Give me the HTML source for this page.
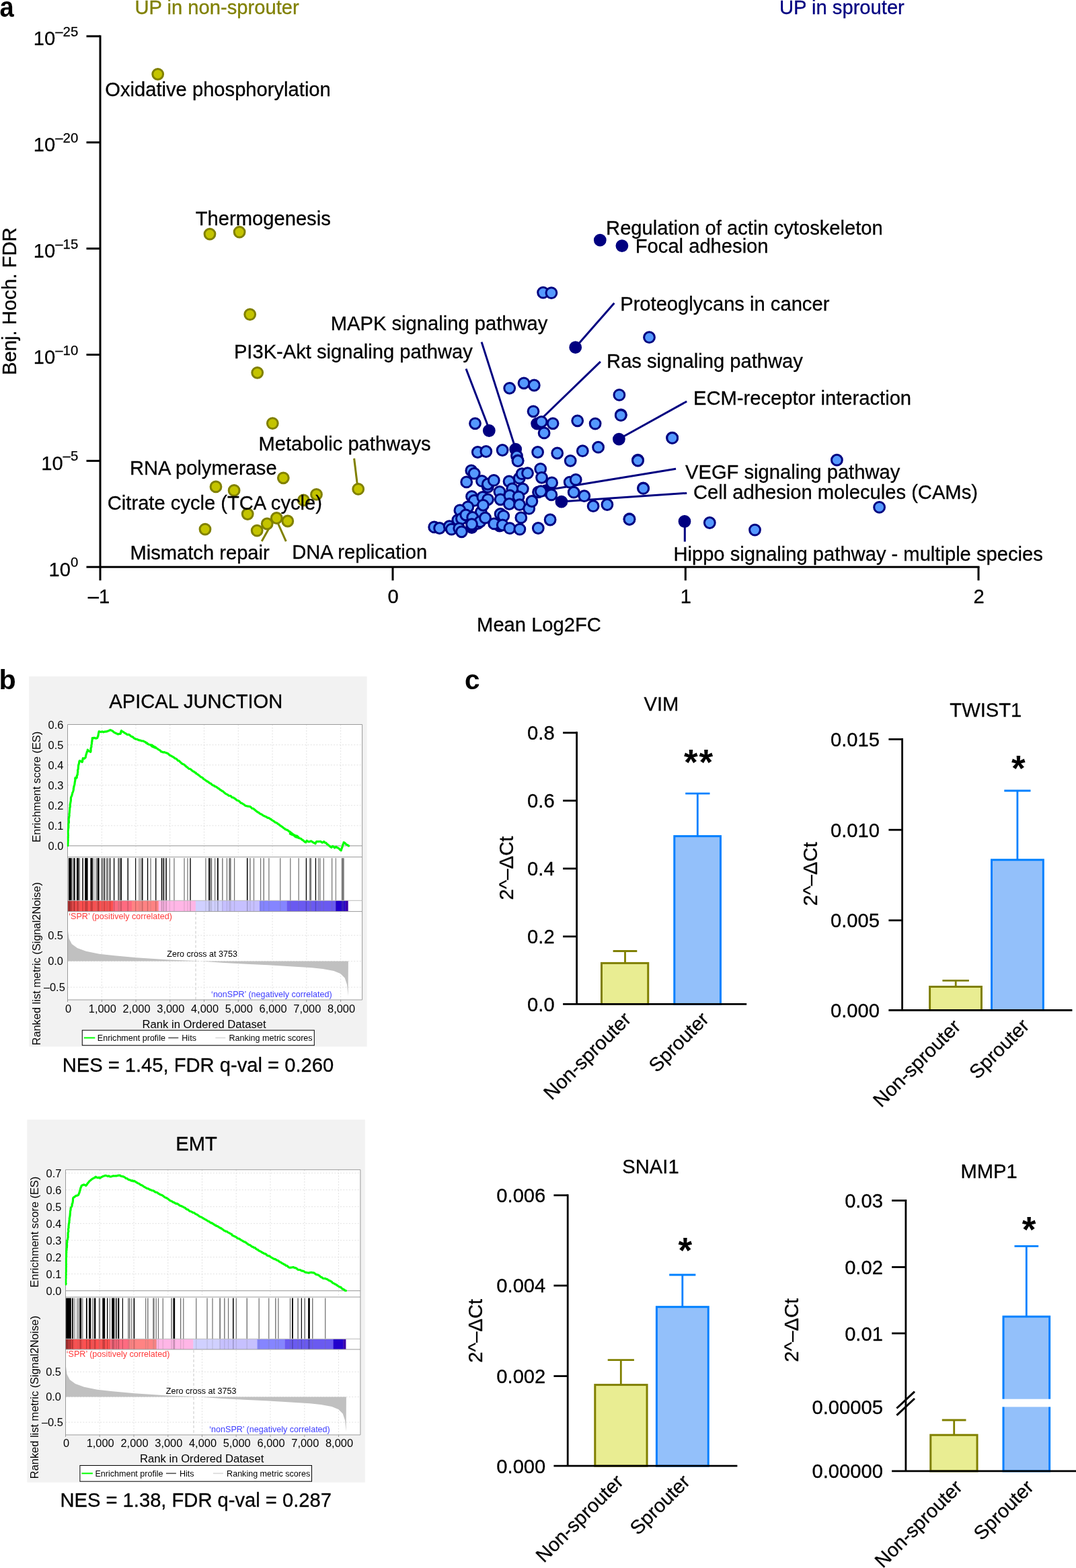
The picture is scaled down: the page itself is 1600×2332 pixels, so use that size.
<!DOCTYPE html>
<html lang="en">
<head>
<meta charset="utf-8">
<title>Figure</title>
<style>
html,body{margin:0;padding:0;background:#fff;}
body{width:1600px;height:2332px;overflow:hidden;}
svg{display:block;font-family:"Liberation Sans",Arial,Helvetica,sans-serif;}
.t{stroke:#000;stroke-width:0.3px;}
</style>
</head>
<body>
<svg width="1600" height="2332" viewBox="0 0 1600 2332">
<rect width="1600" height="2332" fill="#fff"/>
<g id="panel-a">
<text transform="translate(-0.6,24.6) scale(0.89,1)" font-size="42.8" font-weight="bold">a</text>
<text x="200.5" y="20.5" font-size="29.17" fill="#808000" stroke="#808000" stroke-width="0.3">UP in non-sprouter</text>
<text x="1159" y="20.5" font-size="29.17" fill="#000080" stroke="#000080" stroke-width="0.3">UP in sprouter</text>
<g stroke="#000" stroke-width="3" fill="none">
<path d="M149.0 52.4V863.3"/>
<path d="M128.5 843.3H1456.5"/>
<path d="M128.5 53.9H149.0"/>
<path d="M128.5 211.8H149.0"/>
<path d="M128.5 369.7H149.0"/>
<path d="M128.5 527.5H149.0"/>
<path d="M128.5 685.4H149.0"/>
<path d="M584.0 843.3V863.3"/>
<path d="M1019.3 843.3V863.3"/>
<path d="M1455.0 843.3V863.3"/>
</g>
<text x="116.3" y="67.1" font-size="29.17" text-anchor="end" stroke="#000" stroke-width="0.25">10<tspan dy="-13.2" font-size="20.4">–25</tspan></text>
<text x="116.3" y="225.0" font-size="29.17" text-anchor="end" stroke="#000" stroke-width="0.25">10<tspan dy="-13.2" font-size="20.4">–20</tspan></text>
<text x="116.3" y="382.9" font-size="29.17" text-anchor="end" stroke="#000" stroke-width="0.25">10<tspan dy="-13.2" font-size="20.4">–15</tspan></text>
<text x="116.3" y="540.7" font-size="29.17" text-anchor="end" stroke="#000" stroke-width="0.25">10<tspan dy="-13.2" font-size="20.4">–10</tspan></text>
<text x="116.3" y="698.6" font-size="29.17" text-anchor="end" stroke="#000" stroke-width="0.25">10<tspan dy="-13.2" font-size="20.4">–5</tspan></text>
<text x="116.3" y="856.5" font-size="29.17" text-anchor="end" stroke="#000" stroke-width="0.25">10<tspan dy="-13.2" font-size="20.4">0</tspan></text>
<text x="147.0" y="896.5" font-size="29.17" text-anchor="middle" stroke="#000" stroke-width="0.3">–1</text>
<text x="584.5" y="896.5" font-size="29.17" text-anchor="middle" stroke="#000" stroke-width="0.3">0</text>
<text x="1019.8" y="896.5" font-size="29.17" text-anchor="middle" stroke="#000" stroke-width="0.3">1</text>
<text x="1455.5" y="896.5" font-size="29.17" text-anchor="middle" stroke="#000" stroke-width="0.3">2</text>
<text x="801.5" y="939" font-size="29.17" text-anchor="middle" stroke="#000" stroke-width="0.3">Mean Log2FC</text>
<text transform="translate(24,448.2) rotate(-90)" font-size="29.3" text-anchor="middle" stroke="#000" stroke-width="0.3">Benj. Hoch. FDR</text>
<g stroke="#808000" stroke-width="3" fill="none">
<path d="M526.6 681.7L531.5 722.0"/>
<path d="M389.2 805.1L401.3 783.5"/>
<path d="M425.3 805.1L412.3 776.0"/>
</g>
<g stroke="#000080" stroke-width="3" fill="none">
<path d="M913.4 450.7L858.0 514.0"/>
<path d="M892.9 537.9L801.8 626.0"/>
<path d="M693.0 548.5L727.3 638.0"/>
<path d="M716.1 508.6L766.7 667.7"/>
<path d="M1021.2 597.0L922.0 652.0"/>
<path d="M1005.1 697.3L812.0 729.0"/>
<path d="M1021.2 733.4L835.0 746.0"/>
<path d="M1018.3 775.0L1018.3 805.6"/>
</g>
<g fill="#c4c400" stroke="#808000" stroke-width="3">
<circle cx="234.7" cy="110.3" r="7.9"/>
<circle cx="312.0" cy="348.1" r="7.9"/>
<circle cx="356.1" cy="345.1" r="7.9"/>
<circle cx="371.7" cy="467.6" r="7.9"/>
<circle cx="382.7" cy="554.3" r="7.9"/>
<circle cx="405.3" cy="629.6" r="7.9"/>
<circle cx="421.3" cy="710.8" r="7.9"/>
<circle cx="321.0" cy="723.9" r="7.9"/>
<circle cx="348.1" cy="729.4" r="7.9"/>
<circle cx="451.4" cy="743.9" r="7.9"/>
<circle cx="470.5" cy="735.4" r="7.9"/>
<circle cx="532.7" cy="727.4" r="7.9"/>
<circle cx="368.2" cy="764.5" r="7.9"/>
<circle cx="305.0" cy="787.1" r="7.9"/>
<circle cx="382.2" cy="789.1" r="7.9"/>
<circle cx="397.2" cy="779.0" r="7.9"/>
<circle cx="411.3" cy="770.5" r="7.9"/>
<circle cx="427.8" cy="775.0" r="7.9"/>
</g>
<g fill="#000080" stroke="#000080" stroke-width="3">
<circle cx="892.3" cy="357.1" r="7.9"/>
<circle cx="924.9" cy="365.6" r="7.9"/>
<circle cx="855.7" cy="516.7" r="7.9"/>
<circle cx="920.4" cy="653.1" r="7.9"/>
<circle cx="1018.0" cy="775.5" r="7.9"/>
<circle cx="727.3" cy="640.5" r="7.9"/>
<circle cx="766.7" cy="668.2" r="7.9"/>
<circle cx="798.6" cy="630.1" r="7.9"/>
<circle cx="811.8" cy="729.7" r="7.9"/>
<circle cx="834.9" cy="746.2" r="7.9"/>
<circle cx="701.5" cy="784.6" r="7.9"/>
<circle cx="742.9" cy="782.1" r="7.9"/>
</g>
<g fill="#5599ff" stroke="#000080" stroke-width="3">
<circle cx="965.5" cy="501.7" r="7.9"/>
<circle cx="920.9" cy="587.4" r="7.9"/>
<circle cx="923.4" cy="617.0" r="7.9"/>
<circle cx="999.6" cy="651.1" r="7.9"/>
<circle cx="948.5" cy="684.2" r="7.9"/>
<circle cx="1244.4" cy="684.2" r="7.9"/>
<circle cx="1307.6" cy="754.4" r="7.9"/>
<circle cx="956.5" cy="725.9" r="7.9"/>
<circle cx="935.9" cy="772.0" r="7.9"/>
<circle cx="1055.3" cy="777.5" r="7.9"/>
<circle cx="1122.5" cy="788.1" r="7.9"/>
<circle cx="807.6" cy="435.1" r="7.9"/>
<circle cx="819.9" cy="435.6" r="7.9"/>
<circle cx="757.7" cy="577.3" r="7.9"/>
<circle cx="779.0" cy="569.8" r="7.9"/>
<circle cx="794.3" cy="573.0" r="7.9"/>
<circle cx="793.0" cy="611.8" r="7.9"/>
<circle cx="706.5" cy="629.8" r="7.9"/>
<circle cx="805.1" cy="627.3" r="7.9"/>
<circle cx="822.1" cy="629.8" r="7.9"/>
<circle cx="809.1" cy="643.9" r="7.9"/>
<circle cx="858.7" cy="625.8" r="7.9"/>
<circle cx="885.1" cy="630.1" r="7.9"/>
<circle cx="923.2" cy="617.6" r="7.9"/>
<circle cx="999.7" cy="651.4" r="7.9"/>
<circle cx="710.3" cy="672.5" r="7.9"/>
<circle cx="722.8" cy="671.5" r="7.9"/>
<circle cx="747.1" cy="669.5" r="7.9"/>
<circle cx="768.5" cy="678.2" r="7.9"/>
<circle cx="770.0" cy="685.0" r="7.9"/>
<circle cx="799.6" cy="672.5" r="7.9"/>
<circle cx="828.7" cy="674.0" r="7.9"/>
<circle cx="848.2" cy="685.3" r="7.9"/>
<circle cx="866.3" cy="670.7" r="7.9"/>
<circle cx="889.6" cy="665.2" r="7.9"/>
<circle cx="948.5" cy="685.0" r="7.9"/>
<circle cx="847.2" cy="717.1" r="7.9"/>
<circle cx="856.2" cy="713.4" r="7.9"/>
<circle cx="853.2" cy="732.2" r="7.9"/>
<circle cx="868.8" cy="737.7" r="7.9"/>
<circle cx="956.6" cy="726.4" r="7.9"/>
<circle cx="882.1" cy="752.7" r="7.9"/>
<circle cx="902.9" cy="750.5" r="7.9"/>
<circle cx="936.0" cy="772.3" r="7.9"/>
<circle cx="820.6" cy="717.9" r="7.9"/>
<circle cx="819.9" cy="735.9" r="7.9"/>
<circle cx="689.2" cy="765.1" r="7.9"/>
<circle cx="695.7" cy="770.6" r="7.9"/>
<circle cx="706.2" cy="774.6" r="7.9"/>
<circle cx="715.3" cy="761.6" r="7.9"/>
<circle cx="710.2" cy="778.6" r="7.9"/>
<circle cx="770.1" cy="685.5" r="7.9"/>
<circle cx="700.8" cy="699.9" r="7.9"/>
<circle cx="705.2" cy="704.1" r="7.9"/>
<circle cx="693.7" cy="716.9" r="7.9"/>
<circle cx="716.5" cy="715.4" r="7.9"/>
<circle cx="725.3" cy="724.4" r="7.9"/>
<circle cx="725.3" cy="720.0" r="7.9"/>
<circle cx="734.3" cy="714.4" r="7.9"/>
<circle cx="757.0" cy="716.0" r="7.9"/>
<circle cx="772.3" cy="711.2" r="7.9"/>
<circle cx="776.1" cy="704.7" r="7.9"/>
<circle cx="784.5" cy="703.7" r="7.9"/>
<circle cx="803.7" cy="697.4" r="7.9"/>
<circle cx="805.5" cy="710.3" r="7.9"/>
<circle cx="742.9" cy="731.3" r="7.9"/>
<circle cx="761.7" cy="726.9" r="7.9"/>
<circle cx="777.3" cy="727.1" r="7.9"/>
<circle cx="800.5" cy="731.9" r="7.9"/>
<circle cx="804.3" cy="730.7" r="7.9"/>
<circle cx="701.5" cy="738.4" r="7.9"/>
<circle cx="705.2" cy="744.4" r="7.9"/>
<circle cx="717.8" cy="739.4" r="7.9"/>
<circle cx="725.5" cy="742.8" r="7.9"/>
<circle cx="744.1" cy="742.8" r="7.9"/>
<circle cx="757.9" cy="736.9" r="7.9"/>
<circle cx="771.1" cy="738.8" r="7.9"/>
<circle cx="757.3" cy="749.5" r="7.9"/>
<circle cx="772.6" cy="750.7" r="7.9"/>
<circle cx="786.7" cy="756.4" r="7.9"/>
<circle cx="790.9" cy="745.5" r="7.9"/>
<circle cx="718.4" cy="751.3" r="7.9"/>
<circle cx="695.8" cy="753.9" r="7.9"/>
<circle cx="683.9" cy="758.9" r="7.9"/>
<circle cx="744.1" cy="764.5" r="7.9"/>
<circle cx="748.7" cy="767.4" r="7.9"/>
<circle cx="774.8" cy="769.9" r="7.9"/>
<circle cx="818.1" cy="773.0" r="7.9"/>
<circle cx="680.8" cy="773.3" r="7.9"/>
<circle cx="686.4" cy="771.4" r="7.9"/>
<circle cx="692.7" cy="765.8" r="7.9"/>
<circle cx="702.7" cy="769.5" r="7.9"/>
<circle cx="714.0" cy="775.8" r="7.9"/>
<circle cx="721.5" cy="770.2" r="7.9"/>
<circle cx="701.5" cy="779.6" r="7.9"/>
<circle cx="734.7" cy="778.9" r="7.9"/>
<circle cx="747.2" cy="780.8" r="7.9"/>
<circle cx="757.9" cy="785.6" r="7.9"/>
<circle cx="772.9" cy="787.1" r="7.9"/>
<circle cx="800.3" cy="785.5" r="7.9"/>
<circle cx="645.7" cy="783.9" r="7.9"/>
<circle cx="653.6" cy="785.5" r="7.9"/>
<circle cx="668.2" cy="782.7" r="7.9"/>
<circle cx="671.4" cy="787.1" r="7.9"/>
<circle cx="682.7" cy="785.8" r="7.9"/>
<circle cx="686.4" cy="790.8" r="7.9"/>
</g>
<g font-size="29.17" stroke="#000" stroke-width="0.3">
<text x="156.3" y="143.2">Oxidative phosphorylation</text>
<text x="290.8" y="334.9">Thermogenesis</text>
<text x="491.8" y="491.4">MAPK signaling pathway</text>
<text x="347.9" y="533.1">PI3K-Akt signaling pathway</text>
<text x="384.5" y="669.5">Metabolic pathways</text>
<text x="192.9" y="706.1">RNA polymerase</text>
<text x="159.8" y="758.1">Citrate cycle (TCA cycle)</text>
<text x="193.4" y="832.0">Mismatch repair</text>
<text x="434.2" y="831.0">DNA replication</text>
<text x="901.1" y="349.4">Regulation of actin cytoskeleton</text>
<text x="944.8" y="376.0">Focal adhesion</text>
<text x="922.2" y="462.2">Proteoglycans in cancer</text>
<text x="902.1" y="546.6">Ras signaling pathway</text>
<text x="1031.0" y="601.8">ECM-receptor interaction</text>
<text x="1019.0" y="712.1">VEGF signaling pathway</text>
<text x="1031.0" y="741.7">Cell adhesion molecules (CAMs)</text>
<text x="1001.4" y="834.0">Hippo signaling pathway - multiple species</text>
</g>
</g>
<g id="panel-b">
<text x="-1.5" y="1024.5" font-size="41.3" font-weight="bold">b</text>
<rect x="43.2" y="1006" width="502.5" height="550.6" fill="#f2f2f2"/>
<text x="291.3" y="1053.3" class="t" font-size="29.17" text-anchor="middle">APICAL JUNCTION</text>
<rect x="100.5" y="1077.5" width="438.1" height="409.5" fill="#fff"/>
<g stroke="#dedede" stroke-width="0.9" stroke-dasharray="2 2.3" fill="none">
<path d="M151.3 1077.5V1272.6"/>
<path d="M151.3 1356.6V1487.0"/>
<path d="M202.0 1077.5V1272.6"/>
<path d="M202.0 1356.6V1487.0"/>
<path d="M252.8 1077.5V1272.6"/>
<path d="M252.8 1356.6V1487.0"/>
<path d="M303.5 1077.5V1272.6"/>
<path d="M303.5 1356.6V1487.0"/>
<path d="M354.3 1077.5V1272.6"/>
<path d="M354.3 1356.6V1487.0"/>
<path d="M405.1 1077.5V1272.6"/>
<path d="M405.1 1356.6V1487.0"/>
<path d="M455.8 1077.5V1272.6"/>
<path d="M455.8 1356.6V1487.0"/>
<path d="M506.6 1077.5V1272.6"/>
<path d="M506.6 1356.6V1487.0"/>
<path d="M100.5 1227.9H538.6"/>
<path d="M100.5 1197.8H538.6"/>
<path d="M100.5 1167.8H538.6"/>
<path d="M100.5 1137.8H538.6"/>
<path d="M100.5 1107.8H538.6"/>
<path d="M100.5 1391.1H538.6"/>
<path d="M100.5 1429.6H538.6"/>
<path d="M100.5 1468.2H538.6"/>
</g>
<path d="M291.0 1356.6V1487.0" stroke="#c0c0c0" stroke-width="0.9" stroke-dasharray="4 3" fill="none"/>
<path d="M100.5 1257.9H538.6" stroke="#a8a8a8" stroke-width="1.2" fill="none"/>
<polygon points="101.0,1429.4 101.0,1384.5 102.6,1395.9 106.8,1404.0 115.0,1409.9 128.0,1414.8 147.6,1418.7 170.4,1421.3 203.0,1424.2 251.9,1427.5 291.0,1429.1 333.4,1432.1 366.0,1433.7 398.6,1435.3 431.2,1437.3 463.8,1439.2 480.1,1440.9 496.4,1444.1 506.2,1448.0 512.7,1454.5 516.0,1464.3 517.6,1481.3 517.9,1429.4" fill="#c0c0c0"/>
<rect x="100.5" y="1339.3" width="3.8" height="16.3" fill="#c03a3a"/>
<rect x="104.0" y="1339.3" width="8.3" height="16.3" fill="#e84545"/>
<rect x="112.0" y="1339.3" width="56.3" height="16.3" fill="#ff5050"/>
<rect x="168.0" y="1339.3" width="28.3" height="16.3" fill="#ff6b80"/>
<rect x="196.0" y="1339.3" width="40.0" height="16.3" fill="#ff8383"/>
<rect x="235.7" y="1339.3" width="55.5" height="16.3" fill="#ffb6e6"/>
<rect x="290.9" y="1339.3" width="39.4" height="16.3" fill="#d0d0ff"/>
<rect x="330.0" y="1339.3" width="56.2" height="16.3" fill="#c6c0ff"/>
<rect x="385.9" y="1339.3" width="40.9" height="16.3" fill="#8585ff"/>
<rect x="426.5" y="1339.3" width="72.9" height="16.3" fill="#6a5af0"/>
<rect x="499.1" y="1339.3" width="14.7" height="16.3" fill="#2200cc"/>
<rect x="513.5" y="1339.3" width="4.2" height="16.3" fill="#3a00aa"/>
<g>
<rect x="101.89" y="1276.1" width="4.82" height="63.2" fill="#000"/>
<rect x="107.76" y="1276.1" width="1.20" height="63.2" fill="#6e6e6e"/>
<rect x="109.56" y="1276.1" width="2.11" height="63.2" fill="#000"/>
<rect x="113.92" y="1276.1" width="3.31" height="63.2" fill="#000"/>
<rect x="117.54" y="1276.1" width="1.50" height="63.2" fill="#6e6e6e"/>
<rect x="122.35" y="1276.1" width="1.50" height="63.2" fill="#000"/>
<rect x="126.11" y="1276.1" width="4.51" height="63.2" fill="#000"/>
<rect x="134.39" y="1276.1" width="3.61" height="63.2" fill="#000"/>
<rect x="139.11" y="1276.1" width="1.10" height="63.2" fill="#6e6e6e"/>
<rect x="142.36" y="1276.1" width="2.11" height="63.2" fill="#7a7a7a"/>
<rect x="144.92" y="1276.1" width="2.71" height="63.2" fill="#000"/>
<rect x="150.19" y="1276.1" width="1.50" height="63.2" fill="#6e6e6e"/>
<rect x="152.14" y="1276.1" width="1.50" height="63.2" fill="#6e6e6e"/>
<rect x="154.65" y="1276.1" width="1.30" height="63.2" fill="#000"/>
<rect x="157.46" y="1276.1" width="1.10" height="63.2" fill="#6e6e6e"/>
<rect x="158.97" y="1276.1" width="1.10" height="63.2" fill="#6e6e6e"/>
<rect x="160.32" y="1276.1" width="1.10" height="63.2" fill="#6e6e6e"/>
<rect x="162.93" y="1276.1" width="1.30" height="63.2" fill="#000"/>
<rect x="168.95" y="1276.1" width="1.30" height="63.2" fill="#000"/>
<rect x="175.17" y="1276.1" width="1.81" height="63.2" fill="#6e6e6e"/>
<rect x="177.12" y="1276.1" width="1.20" height="63.2" fill="#6e6e6e"/>
<rect x="179.08" y="1276.1" width="1.81" height="63.2" fill="#000"/>
<rect x="189.54" y="1276.1" width="1.35" height="63.2" fill="#000"/>
<rect x="201.05" y="1276.1" width="1.20" height="63.2" fill="#000"/>
<rect x="206.46" y="1276.1" width="1.20" height="63.2" fill="#6e6e6e"/>
<rect x="209.02" y="1276.1" width="1.20" height="63.2" fill="#6e6e6e"/>
<rect x="210.98" y="1276.1" width="1.50" height="63.2" fill="#000"/>
<rect x="218.88" y="1276.1" width="1.35" height="63.2" fill="#000"/>
<rect x="223.47" y="1276.1" width="1.20" height="63.2" fill="#6e6e6e"/>
<rect x="231.07" y="1276.1" width="1.35" height="63.2" fill="#000"/>
<rect x="239.79" y="1276.1" width="1.35" height="63.2" fill="#000"/>
<rect x="241.52" y="1276.1" width="1.20" height="63.2" fill="#6e6e6e"/>
<rect x="243.03" y="1276.1" width="1.20" height="63.2" fill="#000"/>
<rect x="246.34" y="1276.1" width="1.50" height="63.2" fill="#000"/>
<rect x="251.76" y="1276.1" width="1.20" height="63.2" fill="#6e6e6e"/>
<rect x="258.38" y="1276.1" width="1.20" height="63.2" fill="#6e6e6e"/>
<rect x="273.42" y="1276.1" width="1.20" height="63.2" fill="#6e6e6e"/>
<rect x="278.39" y="1276.1" width="1.20" height="63.2" fill="#6e6e6e"/>
<rect x="282.38" y="1276.1" width="1.35" height="63.2" fill="#000"/>
<rect x="305.32" y="1276.1" width="1.20" height="63.2" fill="#6e6e6e"/>
<rect x="310.14" y="1276.1" width="1.81" height="63.2" fill="#000"/>
<rect x="312.25" y="1276.1" width="3.01" height="63.2" fill="#7a7a7a"/>
<rect x="319.02" y="1276.1" width="1.20" height="63.2" fill="#6e6e6e"/>
<rect x="323.15" y="1276.1" width="1.35" height="63.2" fill="#000"/>
<rect x="323.01" y="1276.1" width="1.50" height="63.2" fill="#000"/>
<rect x="330.16" y="1276.1" width="1.35" height="63.2" fill="#6e6e6e"/>
<rect x="336.85" y="1276.1" width="1.20" height="63.2" fill="#6e6e6e"/>
<rect x="340.31" y="1276.1" width="3.31" height="63.2" fill="#7a7a7a"/>
<rect x="347.99" y="1276.1" width="1.20" height="63.2" fill="#6e6e6e"/>
<rect x="366.95" y="1276.1" width="1.50" height="63.2" fill="#000"/>
<rect x="371.24" y="1276.1" width="1.35" height="63.2" fill="#6e6e6e"/>
<rect x="376.88" y="1276.1" width="1.20" height="63.2" fill="#6e6e6e"/>
<rect x="386.96" y="1276.1" width="1.20" height="63.2" fill="#6e6e6e"/>
<rect x="391.55" y="1276.1" width="1.35" height="63.2" fill="#6e6e6e"/>
<rect x="399.30" y="1276.1" width="1.20" height="63.2" fill="#6e6e6e"/>
<rect x="416.15" y="1276.1" width="1.20" height="63.2" fill="#6e6e6e"/>
<rect x="431.20" y="1276.1" width="1.20" height="63.2" fill="#6e6e6e"/>
<rect x="443.54" y="1276.1" width="1.20" height="63.2" fill="#6e6e6e"/>
<rect x="454.75" y="1276.1" width="1.35" height="63.2" fill="#000"/>
<rect x="460.09" y="1276.1" width="3.01" height="63.2" fill="#7a7a7a"/>
<rect x="468.74" y="1276.1" width="1.35" height="63.2" fill="#000"/>
<rect x="472.95" y="1276.1" width="1.05" height="63.2" fill="#6e6e6e"/>
<rect x="475.06" y="1276.1" width="1.35" height="63.2" fill="#6e6e6e"/>
<rect x="480.70" y="1276.1" width="1.20" height="63.2" fill="#6e6e6e"/>
<rect x="493.04" y="1276.1" width="1.20" height="63.2" fill="#6e6e6e"/>
<rect x="498.83" y="1276.1" width="1.05" height="63.2" fill="#6e6e6e"/>
<rect x="507.79" y="1276.1" width="3.91" height="63.2" fill="#7a7a7a"/>
</g>
<g opacity="0.22">
<rect x="101.89" y="1339.3" width="4.82" height="16.3" fill="#000"/>
<rect x="107.76" y="1339.3" width="1.20" height="16.3" fill="#6e6e6e"/>
<rect x="109.56" y="1339.3" width="2.11" height="16.3" fill="#000"/>
<rect x="113.92" y="1339.3" width="3.31" height="16.3" fill="#000"/>
<rect x="117.54" y="1339.3" width="1.50" height="16.3" fill="#6e6e6e"/>
<rect x="122.35" y="1339.3" width="1.50" height="16.3" fill="#000"/>
<rect x="126.11" y="1339.3" width="4.51" height="16.3" fill="#000"/>
<rect x="134.39" y="1339.3" width="3.61" height="16.3" fill="#000"/>
<rect x="139.11" y="1339.3" width="1.10" height="16.3" fill="#6e6e6e"/>
<rect x="142.36" y="1339.3" width="2.11" height="16.3" fill="#7a7a7a"/>
<rect x="144.92" y="1339.3" width="2.71" height="16.3" fill="#000"/>
<rect x="150.19" y="1339.3" width="1.50" height="16.3" fill="#6e6e6e"/>
<rect x="152.14" y="1339.3" width="1.50" height="16.3" fill="#6e6e6e"/>
<rect x="154.65" y="1339.3" width="1.30" height="16.3" fill="#000"/>
<rect x="157.46" y="1339.3" width="1.10" height="16.3" fill="#6e6e6e"/>
<rect x="158.97" y="1339.3" width="1.10" height="16.3" fill="#6e6e6e"/>
<rect x="160.32" y="1339.3" width="1.10" height="16.3" fill="#6e6e6e"/>
<rect x="162.93" y="1339.3" width="1.30" height="16.3" fill="#000"/>
<rect x="168.95" y="1339.3" width="1.30" height="16.3" fill="#000"/>
<rect x="175.17" y="1339.3" width="1.81" height="16.3" fill="#6e6e6e"/>
<rect x="177.12" y="1339.3" width="1.20" height="16.3" fill="#6e6e6e"/>
<rect x="179.08" y="1339.3" width="1.81" height="16.3" fill="#000"/>
<rect x="189.54" y="1339.3" width="1.35" height="16.3" fill="#000"/>
<rect x="201.05" y="1339.3" width="1.20" height="16.3" fill="#000"/>
<rect x="206.46" y="1339.3" width="1.20" height="16.3" fill="#6e6e6e"/>
<rect x="209.02" y="1339.3" width="1.20" height="16.3" fill="#6e6e6e"/>
<rect x="210.98" y="1339.3" width="1.50" height="16.3" fill="#000"/>
<rect x="218.88" y="1339.3" width="1.35" height="16.3" fill="#000"/>
<rect x="223.47" y="1339.3" width="1.20" height="16.3" fill="#6e6e6e"/>
<rect x="231.07" y="1339.3" width="1.35" height="16.3" fill="#000"/>
<rect x="239.79" y="1339.3" width="1.35" height="16.3" fill="#000"/>
<rect x="241.52" y="1339.3" width="1.20" height="16.3" fill="#6e6e6e"/>
<rect x="243.03" y="1339.3" width="1.20" height="16.3" fill="#000"/>
<rect x="246.34" y="1339.3" width="1.50" height="16.3" fill="#000"/>
<rect x="251.76" y="1339.3" width="1.20" height="16.3" fill="#6e6e6e"/>
<rect x="258.38" y="1339.3" width="1.20" height="16.3" fill="#6e6e6e"/>
<rect x="273.42" y="1339.3" width="1.20" height="16.3" fill="#6e6e6e"/>
<rect x="278.39" y="1339.3" width="1.20" height="16.3" fill="#6e6e6e"/>
<rect x="282.38" y="1339.3" width="1.35" height="16.3" fill="#000"/>
<rect x="305.32" y="1339.3" width="1.20" height="16.3" fill="#6e6e6e"/>
<rect x="310.14" y="1339.3" width="1.81" height="16.3" fill="#000"/>
<rect x="312.25" y="1339.3" width="3.01" height="16.3" fill="#7a7a7a"/>
<rect x="319.02" y="1339.3" width="1.20" height="16.3" fill="#6e6e6e"/>
<rect x="323.15" y="1339.3" width="1.35" height="16.3" fill="#000"/>
<rect x="323.01" y="1339.3" width="1.50" height="16.3" fill="#000"/>
<rect x="330.16" y="1339.3" width="1.35" height="16.3" fill="#6e6e6e"/>
<rect x="336.85" y="1339.3" width="1.20" height="16.3" fill="#6e6e6e"/>
<rect x="340.31" y="1339.3" width="3.31" height="16.3" fill="#7a7a7a"/>
<rect x="347.99" y="1339.3" width="1.20" height="16.3" fill="#6e6e6e"/>
<rect x="366.95" y="1339.3" width="1.50" height="16.3" fill="#000"/>
<rect x="371.24" y="1339.3" width="1.35" height="16.3" fill="#6e6e6e"/>
<rect x="376.88" y="1339.3" width="1.20" height="16.3" fill="#6e6e6e"/>
<rect x="386.96" y="1339.3" width="1.20" height="16.3" fill="#6e6e6e"/>
<rect x="391.55" y="1339.3" width="1.35" height="16.3" fill="#6e6e6e"/>
<rect x="399.30" y="1339.3" width="1.20" height="16.3" fill="#6e6e6e"/>
<rect x="416.15" y="1339.3" width="1.20" height="16.3" fill="#6e6e6e"/>
<rect x="431.20" y="1339.3" width="1.20" height="16.3" fill="#6e6e6e"/>
<rect x="443.54" y="1339.3" width="1.20" height="16.3" fill="#6e6e6e"/>
<rect x="454.75" y="1339.3" width="1.35" height="16.3" fill="#000"/>
<rect x="460.09" y="1339.3" width="3.01" height="16.3" fill="#7a7a7a"/>
<rect x="468.74" y="1339.3" width="1.35" height="16.3" fill="#000"/>
<rect x="472.95" y="1339.3" width="1.05" height="16.3" fill="#6e6e6e"/>
<rect x="475.06" y="1339.3" width="1.35" height="16.3" fill="#6e6e6e"/>
<rect x="480.70" y="1339.3" width="1.20" height="16.3" fill="#6e6e6e"/>
<rect x="493.04" y="1339.3" width="1.20" height="16.3" fill="#6e6e6e"/>
<rect x="498.83" y="1339.3" width="1.05" height="16.3" fill="#6e6e6e"/>
<rect x="507.79" y="1339.3" width="3.91" height="16.3" fill="#7a7a7a"/>
</g>
<g stroke="#9a9a9a" stroke-width="1" fill="none">
<path d="M100.5 1077.5H538.6V1487.0H100.5Z"/>
<path d="M100.5 1274.6H538.6"/>
<path d="M100.5 1339.3H538.6" stroke="#bbb"/>
<path d="M100.5 1355.6H538.6"/>
<path d="M100.5 1487.0v3"/>
<path d="M151.3 1487.0v3"/>
<path d="M202.0 1487.0v3"/>
<path d="M252.8 1487.0v3"/>
<path d="M303.5 1487.0v3"/>
<path d="M354.3 1487.0v3"/>
<path d="M405.1 1487.0v3"/>
<path d="M455.8 1487.0v3"/>
<path d="M506.6 1487.0v3"/>
</g>
<clipPath id="clip1"><rect x="99.7" y="1074.5" width="438.9" height="200.1"/></clipPath>
<polyline clip-path="url(#clip1)" points="100.8,1257.7 100.9,1256.0 100.9,1254.8 101.0,1252.7 101.0,1250.7 101.2,1249.6 100.9,1247.4 101.3,1245.7 100.8,1244.7 101.4,1243.4 101.2,1241.4 101.2,1239.6 101.0,1237.5 101.1,1236.3 101.3,1234.2 101.5,1232.4 101.8,1231.2 101.8,1229.6 101.9,1227.9 101.7,1226.2 102.0,1224.5 102.4,1223.4 102.4,1221.5 102.2,1219.2 102.2,1217.5 102.6,1216.3 102.7,1214.7 103.1,1213.1 102.9,1210.3 103.2,1209.6 103.3,1208.0 103.5,1205.7 103.7,1203.7 103.7,1202.9 103.9,1200.5 104.4,1199.9 104.2,1197.3 104.3,1195.7 104.6,1194.9 104.9,1193.0 105.3,1191.1 105.4,1189.4 105.4,1187.8 105.5,1186.3 105.9,1185.0 106.7,1183.7 107.3,1181.2 107.7,1179.3 108.4,1177.9 108.8,1176.6 109.4,1174.2 109.3,1172.7 109.7,1171.7 109.9,1169.6 110.6,1167.7 110.9,1166.6 111.1,1164.6 111.3,1163.1 111.5,1162.1 111.9,1160.0 111.7,1157.9 112.1,1156.6 113.8,1157.2 114.3,1155.9 114.3,1153.5 115.2,1152.3 115.3,1150.3 115.7,1148.3 115.7,1147.5 115.6,1145.4 116.3,1143.3 116.3,1141.9 116.5,1140.3 116.5,1139.0 116.9,1137.2 117.6,1134.9 117.8,1132.9 118.4,1131.5 120.3,1132.1 122.2,1133.4 122.8,1131.5 122.9,1129.7 123.4,1127.7 125.3,1128.3 127.2,1126.5 127.4,1125.3 127.9,1122.7 128.3,1121.6 128.9,1119.7 129.2,1118.5 130.1,1116.6 130.3,1115.2 132.2,1117.1 134.7,1118.3 135.0,1117.2 135.1,1115.3 135.0,1113.1 135.7,1111.4 135.9,1110.6 135.9,1108.2 136.2,1107.1 136.5,1105.4 136.5,1103.5 136.9,1102.7 136.9,1101.1 137.3,1099.5 137.2,1097.6 140.3,1097.4 142.9,1098.2 144.7,1097.6 145.3,1095.8 145.8,1094.8 146.2,1092.6 146.4,1091.5 146.8,1089.6 147.2,1087.8 148.9,1088.3 150.4,1088.6 152.1,1088.0 153.9,1088.9 155.4,1088.2 157.0,1088.2 158.8,1087.9 160.4,1087.3 162.4,1086.5 163.9,1085.7 165.8,1086.3 167.5,1087.3 169.2,1088.8 170.6,1089.6 172.3,1090.6 174.1,1091.3 175.5,1092.0 177.0,1091.4 179.2,1091.3 179.7,1089.5 179.9,1087.8 180.5,1086.6 182.0,1088.1 183.6,1088.7 184.9,1089.8 186.4,1090.6 187.7,1091.4 189.2,1092.6 191.8,1092.4 193.5,1093.7 194.6,1094.9 196.0,1095.6 197.6,1096.1 199.3,1097.9 200.5,1098.6 202.5,1099.4 203.7,1099.5 205.5,1100.4 207.1,1100.9 208.8,1101.1 210.6,1102.0 213.1,1102.0 214.5,1103.0 216.1,1103.5 217.3,1105.0 218.4,1104.9 219.9,1106.6 221.6,1107.3 223.1,1107.6 224.1,1108.2 225.5,1109.5 227.0,1110.7 228.3,1110.8 230.0,1112.0 228.5,1110.8 227.2,1109.4 225.7,1107.9 227.4,1109.2 228.3,1110.0 229.6,1110.7 231.2,1111.1 232.4,1112.8 233.8,1113.2 235.3,1114.6 236.8,1115.4 238.2,1116.1 239.2,1117.6 240.8,1118.1 242.8,1119.0 244.5,1118.6 246.7,1119.6 248.3,1120.0 249.7,1120.7 251.2,1122.2 252.4,1123.1 253.6,1123.7 255.3,1124.6 256.6,1125.4 258.1,1125.9 259.5,1127.6 260.8,1128.0 262.2,1128.6 263.4,1129.7 264.6,1131.2 266.1,1131.3 267.6,1132.9 268.5,1133.8 269.9,1135.2 271.4,1136.2 273.1,1136.7 274.1,1137.5 275.8,1139.0 277.2,1140.4 278.4,1141.0 279.8,1142.4 280.9,1143.4 282.5,1143.5 284.0,1144.5 285.3,1145.8 286.6,1146.9 287.9,1147.3 289.6,1148.8 290.9,1149.0 292.1,1150.8 293.5,1151.2 294.6,1152.3 296.2,1153.3 297.3,1154.4 298.9,1155.8 300.5,1156.2 301.7,1157.4 302.8,1158.6 304.3,1159.4 306.0,1160.9 307.1,1161.2 308.5,1162.5 309.8,1162.9 311.5,1164.5 312.5,1165.0 314.0,1165.5 315.1,1167.2 316.4,1167.9 317.9,1168.1 319.3,1169.5 320.9,1170.0 322.3,1170.6 323.6,1171.9 324.9,1172.4 326.1,1173.4 327.6,1174.7 329.0,1175.4 330.2,1176.5 331.8,1177.1 333.1,1178.5 334.6,1179.6 335.7,1180.6 337.4,1181.4 338.6,1182.0 340.1,1183.3 342.1,1183.5 343.7,1184.3 344.8,1185.9 346.8,1186.0 348.0,1186.9 349.9,1188.1 351.2,1189.3 352.4,1190.2 354.1,1190.7 355.2,1191.2 357.0,1192.9 357.9,1194.1 359.6,1194.5 360.9,1195.4 361.9,1196.0 363.3,1196.9 364.9,1198.2 366.8,1198.7 368.5,1199.2 370.4,1199.3 372.5,1200.1 374.1,1201.4 375.0,1202.5 376.8,1202.5 378.1,1203.9 379.3,1204.7 380.6,1205.9 381.7,1206.9 383.6,1208.0 384.7,1208.4 386.1,1209.9 387.5,1210.6 388.8,1211.0 390.2,1212.1 392.2,1213.3 393.7,1213.9 395.0,1214.5 396.5,1215.2 398.2,1216.4 399.8,1216.4 401.2,1217.7 402.6,1218.1 403.9,1219.4 405.5,1220.4 406.8,1221.1 408.0,1222.1 409.1,1223.0 410.7,1223.5 412.0,1224.1 413.6,1225.7 415.1,1226.2 416.1,1227.6 417.6,1228.3 419.0,1229.4 420.3,1230.2 421.8,1231.6 423.2,1232.2 424.2,1233.5 426.0,1234.0 427.1,1234.5 428.4,1235.2 429.7,1236.5 431.5,1237.3 432.7,1238.5 434.1,1239.4 435.5,1240.7 437.0,1241.5 438.0,1242.2 439.9,1242.8 441.4,1243.0 442.5,1244.0 443.9,1245.2 442.4,1244.2 440.5,1244.1 439.2,1243.8 437.7,1242.6 435.9,1241.8 434.5,1241.5 433.1,1240.4 431.3,1240.0 432.6,1240.5 434.1,1241.2 436.0,1241.9 437.6,1242.9 438.6,1244.0 440.6,1245.1 442.1,1244.8 443.4,1246.0 445.6,1246.7 447.9,1247.5 449.1,1249.1 450.9,1249.7 451.9,1250.9 453.5,1252.3 454.7,1252.8 456.2,1250.2 457.4,1251.2 459.2,1252.0 460.7,1251.6 462.2,1250.8 463.6,1251.5 465.4,1252.8 467.4,1253.7 469.0,1254.7 469.6,1253.2 470.5,1251.7 472.4,1251.7 474.5,1251.7 476.5,1251.3 478.3,1252.8 479.5,1253.2 481.8,1251.7 483.0,1253.1 484.8,1253.5 486.1,1255.3 487.3,1255.9 488.8,1257.3 490.3,1258.3 491.4,1259.5 493.0,1260.3 494.5,1258.4 496.3,1259.4 497.6,1261.1 499.8,1259.3 501.5,1260.8 502.6,1261.0 504.3,1262.3 505.6,1263.8 507.3,1264.8 507.6,1263.2 508.5,1260.9 509.0,1259.7 509.5,1257.8 509.9,1255.9 510.8,1254.8 511.1,1252.8 512.4,1253.4 514.2,1255.2 515.4,1256.2 517.0,1256.9 518.6,1258.1" fill="none" stroke="#00ff00" stroke-width="3.2" stroke-linejoin="round" stroke-linecap="round"/>
<g font-size="16.4" text-anchor="end">
<text x="94.4" y="1263.7">0.0</text>
<text x="94.4" y="1233.7">0.1</text>
<text x="94.4" y="1203.6">0.2</text>
<text x="94.4" y="1173.6">0.3</text>
<text x="94.4" y="1143.6">0.4</text>
<text x="94.4" y="1113.5">0.5</text>
<text x="94.4" y="1083.5">0.6</text>
<text x="94.0" y="1396.9">0.5</text>
<text x="94.0" y="1435.4">0.0</text>
<text x="96.8" y="1474.0">–0.5</text>
</g>
<g font-size="16.4" text-anchor="middle">
<text x="101.5" y="1505.8">0</text>
<text x="152.3" y="1505.8">1,000</text>
<text x="203.0" y="1505.8">2,000</text>
<text x="253.8" y="1505.8">3,000</text>
<text x="304.5" y="1505.8">4,000</text>
<text x="355.3" y="1505.8">5,000</text>
<text x="406.1" y="1505.8">6,000</text>
<text x="456.8" y="1505.8">7,000</text>
<text x="507.6" y="1505.8">8,000</text>
<text x="303.6" y="1529.2" font-size="16.67">Rank in Ordered Dataset</text>
</g>
<text transform="translate(60.2,1170.2) rotate(-90)" font-size="16.4" text-anchor="middle">Enrichment score (ES)</text>
<text transform="translate(60.2,1433.3) rotate(-90)" font-size="16.4" text-anchor="middle">Ranked list metric (Signal2Noise)</text>
<text x="102.3" y="1366.8" font-size="12.55" fill="#ff3b3b">‘SPR’ (positively correlated)</text>
<text x="314.1" y="1482.5" font-size="12.55" fill="#4040ff">‘nonSPR’ (negatively correlated)</text>
<text x="248.3" y="1423.3" font-size="12.55">Zero cross at 3753</text>
<rect x="122.3" y="1532.2" width="345.0" height="22.5" fill="#fff" stroke="#000" stroke-width="1"/>
<path d="M124.8 1543.5h16.5" stroke="#00ff00" stroke-width="2" fill="none"/>
<path d="M250.3 1543.5h15" stroke="#555" stroke-width="1.6" fill="none"/>
<path d="M320.3 1543.5h15" stroke="#d8d8d8" stroke-width="1.6" fill="none"/>
<g font-size="12.55">
<text x="144.8" y="1548.0">Enrichment profile</text>
<text x="270.3" y="1548.0">Hits</text>
<text x="340.5" y="1548.0">Ranking metric scores</text>
</g>
<text x="294.4" y="1594.2" class="t" font-size="29.17" text-anchor="middle">NES = 1.45, FDR q-val = 0.260</text>
<rect x="40.3" y="1665.2" width="502.5" height="539.5" fill="#f2f2f2"/>
<text x="292" y="1711.2" class="t" font-size="29.17" text-anchor="middle">EMT</text>
<rect x="97.5" y="1739.7" width="438.4" height="394.3" fill="#fff"/>
<g stroke="#dedede" stroke-width="0.9" stroke-dasharray="2 2.3" fill="none">
<path d="M148.2 1739.7V1927.0"/>
<path d="M148.2 2007.9V2134.0"/>
<path d="M199.0 1739.7V1927.0"/>
<path d="M199.0 2007.9V2134.0"/>
<path d="M249.8 1739.7V1927.0"/>
<path d="M249.8 2007.9V2134.0"/>
<path d="M300.5 1739.7V1927.0"/>
<path d="M300.5 2007.9V2134.0"/>
<path d="M351.2 1739.7V1927.0"/>
<path d="M351.2 2007.9V2134.0"/>
<path d="M402.0 1739.7V1927.0"/>
<path d="M402.0 2007.9V2134.0"/>
<path d="M452.8 1739.7V1927.0"/>
<path d="M452.8 2007.9V2134.0"/>
<path d="M503.5 1739.7V1927.0"/>
<path d="M503.5 2007.9V2134.0"/>
<path d="M97.5 1894.7H535.9"/>
<path d="M97.5 1869.7H535.9"/>
<path d="M97.5 1844.7H535.9"/>
<path d="M97.5 1819.7H535.9"/>
<path d="M97.5 1794.7H535.9"/>
<path d="M97.5 1769.7H535.9"/>
<path d="M97.5 1744.7H535.9"/>
<path d="M97.5 2040.3H535.9"/>
<path d="M97.5 2077.6H535.9"/>
<path d="M97.5 2115.2H535.9"/>
</g>
<path d="M288.0 2007.9V2134.0" stroke="#c0c0c0" stroke-width="0.9" stroke-dasharray="4 3" fill="none"/>
<path d="M97.5 1919.7H535.9" stroke="#a8a8a8" stroke-width="1.2" fill="none"/>
<polygon points="98.0,2077.4 98.0,2032.5 99.6,2043.9 103.8,2052.0 112.0,2057.9 125.0,2062.8 144.6,2066.7 167.4,2069.3 200.0,2072.2 248.9,2075.5 288.0,2077.1 330.4,2080.1 363.0,2081.7 395.6,2083.3 428.2,2085.3 460.8,2087.2 477.1,2088.9 493.4,2092.1 503.2,2096.0 509.7,2102.5 513.0,2112.3 514.6,2129.3 514.9,2077.4" fill="#c0c0c0"/>
<rect x="97.5" y="1991.3" width="3.8" height="15.6" fill="#c03a3a"/>
<rect x="101.0" y="1991.3" width="8.3" height="15.6" fill="#e84545"/>
<rect x="109.0" y="1991.3" width="55.3" height="15.6" fill="#ff5050"/>
<rect x="164.0" y="1991.3" width="28.3" height="15.6" fill="#ff6b80"/>
<rect x="192.0" y="1991.3" width="40.9" height="15.6" fill="#ff8383"/>
<rect x="232.6" y="1991.3" width="55.1" height="15.6" fill="#ffb6e6"/>
<rect x="287.4" y="1991.3" width="39.9" height="15.6" fill="#d0d0ff"/>
<rect x="327.0" y="1991.3" width="55.7" height="15.6" fill="#c6c0ff"/>
<rect x="382.4" y="1991.3" width="41.3" height="15.6" fill="#8585ff"/>
<rect x="423.4" y="1991.3" width="72.6" height="15.6" fill="#6a5af0"/>
<rect x="495.7" y="1991.3" width="15.1" height="15.6" fill="#2200cc"/>
<rect x="510.5" y="1991.3" width="3.9" height="15.6" fill="#3a00aa"/>
<g>
<rect x="98.13" y="1930.5" width="7.82" height="60.8" fill="#000"/>
<rect x="107.15" y="1930.5" width="1.81" height="60.8" fill="#000"/>
<rect x="110.46" y="1930.5" width="1.20" height="60.8" fill="#6e6e6e"/>
<rect x="114.23" y="1930.5" width="1.20" height="60.8" fill="#6e6e6e"/>
<rect x="116.48" y="1930.5" width="1.20" height="60.8" fill="#6e6e6e"/>
<rect x="118.44" y="1930.5" width="2.71" height="60.8" fill="#000"/>
<rect x="122.20" y="1930.5" width="1.20" height="60.8" fill="#6e6e6e"/>
<rect x="127.92" y="1930.5" width="1.81" height="60.8" fill="#000"/>
<rect x="131.98" y="1930.5" width="3.31" height="60.8" fill="#000"/>
<rect x="137.40" y="1930.5" width="1.50" height="60.8" fill="#6e6e6e"/>
<rect x="139.96" y="1930.5" width="2.41" height="60.8" fill="#000"/>
<rect x="146.73" y="1930.5" width="2.41" height="60.8" fill="#7a7a7a"/>
<rect x="152.29" y="1930.5" width="3.91" height="60.8" fill="#000"/>
<rect x="158.99" y="1930.5" width="1.35" height="60.8" fill="#000"/>
<rect x="162.83" y="1930.5" width="1.20" height="60.8" fill="#6e6e6e"/>
<rect x="166.14" y="1930.5" width="4.21" height="60.8" fill="#000"/>
<rect x="172.01" y="1930.5" width="1.50" height="60.8" fill="#000"/>
<rect x="175.17" y="1930.5" width="2.11" height="60.8" fill="#000"/>
<rect x="181.79" y="1930.5" width="1.20" height="60.8" fill="#000"/>
<rect x="190.14" y="1930.5" width="1.35" height="60.8" fill="#6e6e6e"/>
<rect x="192.09" y="1930.5" width="1.35" height="60.8" fill="#6e6e6e"/>
<rect x="195.18" y="1930.5" width="1.20" height="60.8" fill="#6e6e6e"/>
<rect x="198.56" y="1930.5" width="1.66" height="60.8" fill="#000"/>
<rect x="216.09" y="1930.5" width="1.20" height="60.8" fill="#6e6e6e"/>
<rect x="219.18" y="1930.5" width="1.35" height="60.8" fill="#6e6e6e"/>
<rect x="227.23" y="1930.5" width="2.41" height="60.8" fill="#7a7a7a"/>
<rect x="231.59" y="1930.5" width="1.20" height="60.8" fill="#6e6e6e"/>
<rect x="234.90" y="1930.5" width="1.20" height="60.8" fill="#6e6e6e"/>
<rect x="241.67" y="1930.5" width="1.20" height="60.8" fill="#6e6e6e"/>
<rect x="254.31" y="1930.5" width="1.50" height="60.8" fill="#6e6e6e"/>
<rect x="257.47" y="1930.5" width="2.71" height="60.8" fill="#000"/>
<rect x="267.93" y="1930.5" width="1.35" height="60.8" fill="#6e6e6e"/>
<rect x="272.22" y="1930.5" width="1.20" height="60.8" fill="#6e6e6e"/>
<rect x="291.18" y="1930.5" width="1.20" height="60.8" fill="#6e6e6e"/>
<rect x="307.43" y="1930.5" width="1.20" height="60.8" fill="#6e6e6e"/>
<rect x="315.41" y="1930.5" width="1.20" height="60.8" fill="#6e6e6e"/>
<rect x="326.69" y="1930.5" width="1.20" height="60.8" fill="#6e6e6e"/>
<rect x="326.47" y="1930.5" width="1.20" height="60.8" fill="#6e6e6e"/>
<rect x="333.17" y="1930.5" width="1.35" height="60.8" fill="#6e6e6e"/>
<rect x="338.96" y="1930.5" width="1.20" height="60.8" fill="#6e6e6e"/>
<rect x="346.03" y="1930.5" width="1.50" height="60.8" fill="#000"/>
<rect x="350.70" y="1930.5" width="1.20" height="60.8" fill="#6e6e6e"/>
<rect x="366.57" y="1930.5" width="1.35" height="60.8" fill="#6e6e6e"/>
<rect x="384.55" y="1930.5" width="1.20" height="60.8" fill="#6e6e6e"/>
<rect x="399.15" y="1930.5" width="1.20" height="60.8" fill="#6e6e6e"/>
<rect x="409.15" y="1930.5" width="1.35" height="60.8" fill="#6e6e6e"/>
<rect x="413.29" y="1930.5" width="1.20" height="60.8" fill="#6e6e6e"/>
<rect x="430.90" y="1930.5" width="1.20" height="60.8" fill="#6e6e6e"/>
<rect x="434.06" y="1930.5" width="1.81" height="60.8" fill="#000"/>
<rect x="442.33" y="1930.5" width="1.50" height="60.8" fill="#6e6e6e"/>
<rect x="447.75" y="1930.5" width="1.20" height="60.8" fill="#000"/>
<rect x="452.41" y="1930.5" width="1.50" height="60.8" fill="#6e6e6e"/>
<rect x="458.13" y="1930.5" width="2.71" height="60.8" fill="#000"/>
<rect x="464.08" y="1930.5" width="1.35" height="60.8" fill="#6e6e6e"/>
<rect x="483.11" y="1930.5" width="1.20" height="60.8" fill="#6e6e6e"/>
</g>
<g opacity="0.22">
<rect x="98.13" y="1991.3" width="7.82" height="15.6" fill="#000"/>
<rect x="107.15" y="1991.3" width="1.81" height="15.6" fill="#000"/>
<rect x="110.46" y="1991.3" width="1.20" height="15.6" fill="#6e6e6e"/>
<rect x="114.23" y="1991.3" width="1.20" height="15.6" fill="#6e6e6e"/>
<rect x="116.48" y="1991.3" width="1.20" height="15.6" fill="#6e6e6e"/>
<rect x="118.44" y="1991.3" width="2.71" height="15.6" fill="#000"/>
<rect x="122.20" y="1991.3" width="1.20" height="15.6" fill="#6e6e6e"/>
<rect x="127.92" y="1991.3" width="1.81" height="15.6" fill="#000"/>
<rect x="131.98" y="1991.3" width="3.31" height="15.6" fill="#000"/>
<rect x="137.40" y="1991.3" width="1.50" height="15.6" fill="#6e6e6e"/>
<rect x="139.96" y="1991.3" width="2.41" height="15.6" fill="#000"/>
<rect x="146.73" y="1991.3" width="2.41" height="15.6" fill="#7a7a7a"/>
<rect x="152.29" y="1991.3" width="3.91" height="15.6" fill="#000"/>
<rect x="158.99" y="1991.3" width="1.35" height="15.6" fill="#000"/>
<rect x="162.83" y="1991.3" width="1.20" height="15.6" fill="#6e6e6e"/>
<rect x="166.14" y="1991.3" width="4.21" height="15.6" fill="#000"/>
<rect x="172.01" y="1991.3" width="1.50" height="15.6" fill="#000"/>
<rect x="175.17" y="1991.3" width="2.11" height="15.6" fill="#000"/>
<rect x="181.79" y="1991.3" width="1.20" height="15.6" fill="#000"/>
<rect x="190.14" y="1991.3" width="1.35" height="15.6" fill="#6e6e6e"/>
<rect x="192.09" y="1991.3" width="1.35" height="15.6" fill="#6e6e6e"/>
<rect x="195.18" y="1991.3" width="1.20" height="15.6" fill="#6e6e6e"/>
<rect x="198.56" y="1991.3" width="1.66" height="15.6" fill="#000"/>
<rect x="216.09" y="1991.3" width="1.20" height="15.6" fill="#6e6e6e"/>
<rect x="219.18" y="1991.3" width="1.35" height="15.6" fill="#6e6e6e"/>
<rect x="227.23" y="1991.3" width="2.41" height="15.6" fill="#7a7a7a"/>
<rect x="231.59" y="1991.3" width="1.20" height="15.6" fill="#6e6e6e"/>
<rect x="234.90" y="1991.3" width="1.20" height="15.6" fill="#6e6e6e"/>
<rect x="241.67" y="1991.3" width="1.20" height="15.6" fill="#6e6e6e"/>
<rect x="254.31" y="1991.3" width="1.50" height="15.6" fill="#6e6e6e"/>
<rect x="257.47" y="1991.3" width="2.71" height="15.6" fill="#000"/>
<rect x="267.93" y="1991.3" width="1.35" height="15.6" fill="#6e6e6e"/>
<rect x="272.22" y="1991.3" width="1.20" height="15.6" fill="#6e6e6e"/>
<rect x="291.18" y="1991.3" width="1.20" height="15.6" fill="#6e6e6e"/>
<rect x="307.43" y="1991.3" width="1.20" height="15.6" fill="#6e6e6e"/>
<rect x="315.41" y="1991.3" width="1.20" height="15.6" fill="#6e6e6e"/>
<rect x="326.69" y="1991.3" width="1.20" height="15.6" fill="#6e6e6e"/>
<rect x="326.47" y="1991.3" width="1.20" height="15.6" fill="#6e6e6e"/>
<rect x="333.17" y="1991.3" width="1.35" height="15.6" fill="#6e6e6e"/>
<rect x="338.96" y="1991.3" width="1.20" height="15.6" fill="#6e6e6e"/>
<rect x="346.03" y="1991.3" width="1.50" height="15.6" fill="#000"/>
<rect x="350.70" y="1991.3" width="1.20" height="15.6" fill="#6e6e6e"/>
<rect x="366.57" y="1991.3" width="1.35" height="15.6" fill="#6e6e6e"/>
<rect x="384.55" y="1991.3" width="1.20" height="15.6" fill="#6e6e6e"/>
<rect x="399.15" y="1991.3" width="1.20" height="15.6" fill="#6e6e6e"/>
<rect x="409.15" y="1991.3" width="1.35" height="15.6" fill="#6e6e6e"/>
<rect x="413.29" y="1991.3" width="1.20" height="15.6" fill="#6e6e6e"/>
<rect x="430.90" y="1991.3" width="1.20" height="15.6" fill="#6e6e6e"/>
<rect x="434.06" y="1991.3" width="1.81" height="15.6" fill="#000"/>
<rect x="442.33" y="1991.3" width="1.50" height="15.6" fill="#6e6e6e"/>
<rect x="447.75" y="1991.3" width="1.20" height="15.6" fill="#000"/>
<rect x="452.41" y="1991.3" width="1.50" height="15.6" fill="#6e6e6e"/>
<rect x="458.13" y="1991.3" width="2.71" height="15.6" fill="#000"/>
<rect x="464.08" y="1991.3" width="1.35" height="15.6" fill="#6e6e6e"/>
<rect x="483.11" y="1991.3" width="1.20" height="15.6" fill="#6e6e6e"/>
</g>
<g stroke="#9a9a9a" stroke-width="1" fill="none">
<path d="M97.5 1739.7H535.9V2134.0H97.5Z"/>
<path d="M97.5 1929.0H535.9"/>
<path d="M97.5 1991.3H535.9" stroke="#bbb"/>
<path d="M97.5 2006.9H535.9"/>
<path d="M97.5 2134.0v3"/>
<path d="M148.2 2134.0v3"/>
<path d="M199.0 2134.0v3"/>
<path d="M249.8 2134.0v3"/>
<path d="M300.5 2134.0v3"/>
<path d="M351.2 2134.0v3"/>
<path d="M402.0 2134.0v3"/>
<path d="M452.8 2134.0v3"/>
<path d="M503.5 2134.0v3"/>
</g>
<clipPath id="clip2"><rect x="96.7" y="1736.7" width="439.2" height="192.3"/></clipPath>
<polyline clip-path="url(#clip2)" points="97.8,1910.1 98.1,1908.9 97.6,1907.2 97.9,1905.2 97.7,1903.4 97.9,1901.4 98.0,1899.7 97.8,1897.9 98.0,1896.9 98.2,1895.0 97.8,1893.2 98.2,1892.0 98.2,1890.2 98.2,1888.3 98.1,1887.2 98.2,1885.4 98.4,1883.5 98.1,1881.7 98.5,1880.2 98.3,1878.7 98.2,1877.2 98.3,1875.1 98.3,1874.1 98.2,1871.8 98.4,1870.1 98.7,1869.0 98.5,1867.2 98.6,1865.7 98.5,1863.8 98.8,1862.6 98.6,1860.3 99.1,1859.1 98.9,1857.5 99.4,1855.4 99.5,1853.8 99.6,1851.6 99.4,1849.7 99.7,1848.0 99.9,1847.0 99.7,1845.0 100.5,1843.5 100.8,1841.3 101.2,1839.6 101.0,1838.1 101.1,1836.6 101.1,1834.0 101.3,1832.6 101.9,1831.4 101.5,1828.9 101.6,1827.5 102.1,1825.8 102.0,1823.8 102.2,1822.8 102.3,1820.6 102.8,1818.8 103.0,1817.7 102.9,1815.9 103.3,1814.3 103.2,1812.6 103.5,1810.6 103.8,1809.5 104.1,1807.6 104.2,1805.5 104.4,1804.1 104.4,1803.0 104.5,1801.5 105.0,1799.5 105.2,1797.5 105.3,1796.1 106.8,1794.3 107.1,1792.6 107.1,1791.2 107.9,1789.2 108.2,1787.3 108.4,1785.7 108.5,1784.0 108.6,1782.6 109.1,1781.1 111.0,1780.0 112.9,1778.4 114.8,1778.1 116.6,1777.3 117.1,1775.8 117.9,1774.0 118.4,1772.2 118.6,1771.5 119.2,1769.9 119.5,1768.2 120.1,1766.3 120.9,1764.7 121.1,1763.4 123.0,1762.5 124.9,1761.9 126.6,1762.6 127.9,1763.4 129.2,1761.7 130.3,1759.9 131.7,1758.5 132.8,1756.8 134.4,1755.7 135.4,1754.7 136.6,1753.8 137.9,1752.9 139.5,1752.1 140.7,1751.5 142.2,1750.2 143.7,1751.1 145.5,1751.7 147.2,1751.1 148.6,1752.1 150.0,1751.1 151.8,1750.2 153.3,1749.4 154.7,1749.0 156.1,1748.4 157.8,1748.4 160.0,1749.4 162.1,1748.9 163.5,1750.0 165.5,1749.9 167.2,1749.1 168.9,1748.9 170.5,1749.0 172.1,1748.9 173.7,1748.9 175.1,1748.3 176.8,1748.0 178.5,1748.1 180.4,1749.5 182.4,1749.6 184.3,1750.2 185.9,1751.3 187.3,1752.4 189.0,1752.8 190.6,1754.1 191.9,1754.7 193.7,1755.0 195.3,1756.2 196.5,1755.7 198.3,1756.8 199.6,1756.4 201.3,1757.4 202.9,1758.5 204.1,1759.2 205.5,1759.9 207.3,1760.6 208.9,1762.1 210.2,1762.5 211.9,1763.2 213.1,1764.2 214.9,1765.5 216.3,1766.0 217.9,1767.2 219.4,1767.5 221.2,1768.2 222.6,1769.3 223.8,1769.4 225.5,1770.5 226.8,1770.7 228.6,1771.0 230.3,1772.7 231.8,1773.1 233.3,1773.6 234.5,1774.1 235.8,1775.3 237.5,1776.1 238.7,1776.9 240.3,1777.2 241.8,1778.1 243.2,1779.1 244.6,1780.4 245.8,1781.0 247.7,1781.6 248.6,1782.4 250.2,1783.4 251.5,1784.6 252.7,1785.6 254.5,1786.2 255.8,1786.7 257.1,1787.9 259.1,1788.4 260.1,1789.2 262.1,1790.2 263.6,1790.1 264.6,1790.8 266.5,1792.3 267.9,1793.2 269.2,1793.5 270.9,1794.3 272.6,1795.1 274.0,1796.0 275.3,1796.3 276.4,1797.7 277.9,1798.6 279.2,1798.8 280.7,1800.1 282.0,1801.2 283.9,1801.8 285.3,1802.4 286.7,1803.4 288.3,1803.5 289.6,1804.6 291.2,1805.6 292.6,1806.2 293.7,1806.7 295.3,1808.1 296.5,1809.1 298.3,1809.9 299.3,1810.0 301.0,1811.2 302.7,1812.1 303.7,1812.9 305.3,1813.6 306.6,1814.4 308.2,1815.3 309.5,1816.3 310.8,1816.5 312.3,1817.9 313.8,1818.8 314.9,1818.7 316.1,1819.8 318.0,1820.7 318.9,1821.8 320.4,1822.0 321.9,1823.5 323.3,1823.5 324.4,1824.4 326.4,1825.6 327.6,1826.6 328.9,1826.7 330.4,1828.0 331.4,1828.6 332.9,1829.9 334.4,1830.5 335.7,1831.3 337.2,1831.4 338.6,1832.6 340.2,1833.4 341.5,1834.1 342.9,1834.9 344.4,1835.5 345.3,1837.2 347.1,1837.9 348.1,1838.5 349.9,1839.3 351.4,1840.0 352.6,1841.2 353.7,1842.0 355.3,1842.1 357.0,1843.2 358.2,1844.1 359.8,1844.9 361.0,1845.4 362.2,1846.5 363.5,1847.0 365.0,1847.4 366.2,1848.6 367.8,1849.6 369.4,1850.9 370.9,1851.4 371.8,1851.8 373.3,1853.0 374.8,1854.2 376.2,1854.4 377.5,1855.7 379.1,1855.6 380.3,1857.1 382.1,1858.2 383.6,1858.8 384.5,1859.9 386.2,1860.5 387.4,1861.3 389.0,1861.9 390.1,1863.1 391.6,1863.4 392.9,1864.6 394.3,1864.7 395.9,1865.5 397.3,1867.2 398.8,1867.6 400.4,1867.9 401.8,1868.9 403.3,1870.1 404.9,1870.9 406.5,1871.8 408.0,1872.6 409.3,1872.6 411.0,1873.9 412.5,1874.6 413.8,1875.1 415.3,1876.3 416.4,1877.0 418.2,1877.7 419.7,1879.0 420.7,1879.3 422.4,1880.6 423.4,1880.7 425.2,1882.3 426.8,1882.3 428.1,1883.7 429.2,1884.8 430.8,1885.3 432.5,1885.1 434.5,1884.9 436.4,1884.5 437.7,1885.6 439.4,1885.7 440.9,1886.3 442.7,1888.1 443.9,1888.3 445.8,1888.5 447.1,1889.1 448.8,1890.2 450.3,1890.2 452.0,1890.8 453.5,1892.1 455.3,1892.3 457.1,1892.8 458.7,1893.1 461.0,1892.7 462.7,1892.3 464.6,1892.6 466.5,1892.8 467.8,1893.8 469.4,1895.0 470.8,1895.7 472.4,1895.8 473.9,1896.7 475.3,1897.6 477.1,1899.3 478.6,1899.7 479.8,1901.0 481.6,1901.5 483.5,1901.4 485.3,1902.2 486.8,1902.6 488.5,1904.1 489.8,1904.3 491.4,1905.5 493.0,1906.0 494.4,1907.9 496.1,1908.5 497.6,1909.5 498.6,1910.0 500.4,1910.9 502.0,1912.1 503.0,1912.8 504.6,1914.0 506.1,1914.1 507.2,1914.9 508.5,1916.5 510.1,1917.3 511.6,1917.9 512.7,1919.1 514.3,1919.5" fill="none" stroke="#00ff00" stroke-width="3.2" stroke-linejoin="round" stroke-linecap="round"/>
<g font-size="16.4" text-anchor="end">
<text x="91.4" y="1925.5">0.0</text>
<text x="91.4" y="1900.5">0.1</text>
<text x="91.4" y="1875.5">0.2</text>
<text x="91.4" y="1850.5">0.3</text>
<text x="91.4" y="1825.5">0.4</text>
<text x="91.4" y="1800.5">0.5</text>
<text x="91.4" y="1775.5">0.6</text>
<text x="91.4" y="1750.5">0.7</text>
<text x="91.0" y="2046.1">0.5</text>
<text x="91.0" y="2083.4">0.0</text>
<text x="93.8" y="2121.0">–0.5</text>
</g>
<g font-size="16.4" text-anchor="middle">
<text x="98.5" y="2152">0</text>
<text x="149.2" y="2152">1,000</text>
<text x="200.0" y="2152">2,000</text>
<text x="250.8" y="2152">3,000</text>
<text x="301.5" y="2152">4,000</text>
<text x="352.2" y="2152">5,000</text>
<text x="403.0" y="2152">6,000</text>
<text x="453.8" y="2152">7,000</text>
<text x="504.5" y="2152">8,000</text>
<text x="300.2" y="2174.6" font-size="16.67">Rank in Ordered Dataset</text>
</g>
<text transform="translate(57.2,1832.2) rotate(-90)" font-size="16.4" text-anchor="middle">Enrichment score (ES)</text>
<text transform="translate(57.2,2078) rotate(-90)" font-size="16.4" text-anchor="middle">Ranked list metric (Signal2Noise)</text>
<text x="98.8" y="2018.1" font-size="12.55" fill="#ff3b3b">‘SPR’ (positively correlated)</text>
<text x="311.3" y="2129.5" font-size="12.55" fill="#4040ff">‘nonSPR’ (negatively correlated)</text>
<text x="246.8" y="2072.6" font-size="12.55">Zero cross at 3753</text>
<rect x="118.9" y="2179.5" width="344.6" height="23.7" fill="#fff" stroke="#000" stroke-width="1"/>
<path d="M121.4 2191.3h16.5" stroke="#00ff00" stroke-width="2" fill="none"/>
<path d="M246.9 2191.3h15" stroke="#555" stroke-width="1.6" fill="none"/>
<path d="M316.9 2191.3h15" stroke="#d8d8d8" stroke-width="1.6" fill="none"/>
<g font-size="12.55">
<text x="141.4" y="2195.8">Enrichment profile</text>
<text x="266.9" y="2195.8">Hits</text>
<text x="337.1" y="2195.8">Ranking metric scores</text>
</g>
<text x="291.2" y="2240.5" class="t" font-size="29.17" text-anchor="middle">NES = 1.38, FDR q-val = 0.287</text>
</g>
<g id="panel-c">
<text x="691" y="1024.8" font-size="40.5" font-weight="bold">c</text>
<text x="983.4" y="1057.0" class="t" font-size="29.17" text-anchor="middle">VIM</text>
<path d="M929.5 1432.4V1414.5M911.6 1414.5H947.3" stroke="#808000" stroke-width="2.8" fill="none"/>
<rect x="894.50" y="1432.4" width="69.25" height="61.0" fill="#e9ed92" stroke="#808000" stroke-width="3"/>
<path d="M1037.3 1243.6V1180.1M1019.2 1180.1H1055.5" stroke="#0080ff" stroke-width="2.8" fill="none"/>
<rect x="1002.80" y="1243.6" width="68.65" height="249.8" fill="#93c0fa" stroke="#0080ff" stroke-width="3"/>
<g stroke="#000" stroke-width="2.8" fill="none">
<path d="M857.6 1088.3V1493.3"/>
<path d="M837.1 1493.3H1110.2"/>
<path d="M837.1 1089.8H857.6"/>
<path d="M837.1 1190.8H857.6"/>
<path d="M837.1 1291.8H857.6"/>
<path d="M837.1 1392.8H857.6"/>
</g>
<g font-size="29.17" text-anchor="end">
<text class="t" x="824.6" y="1100.2">0.8</text>
<text class="t" x="824.6" y="1201.2">0.6</text>
<text class="t" x="824.6" y="1302.2">0.4</text>
<text class="t" x="824.6" y="1403.2">0.2</text>
<text class="t" x="824.6" y="1503.8">0.0</text>
</g>
<text transform="translate(763.4,1291.0) rotate(-90)" class="t" font-size="29.17" text-anchor="middle">2^–ΔCt</text>
<text transform="translate(940.0,1517.5) rotate(-45)" class="t" font-size="29.0" text-anchor="end">Non-sprouter</text>
<text transform="translate(1055.5,1517.5) rotate(-45)" class="t" font-size="29.0" text-anchor="end">Sprouter</text>
<text x="1039.6" y="1152.4" font-size="53" font-weight="bold" letter-spacing="2" text-anchor="middle">**</text>
<text x="1465.8" y="1066.3" class="t" font-size="29.17" text-anchor="middle">TWIST1</text>
<path d="M1421.2 1467.5V1458.4M1401.4 1458.4H1440.9" stroke="#808000" stroke-width="2.8" fill="none"/>
<rect x="1382.60" y="1467.5" width="76.85" height="35.0" fill="#e9ed92" stroke="#808000" stroke-width="3"/>
<path d="M1512.9 1278.8V1176.0M1493.3 1176.0H1532.5" stroke="#0080ff" stroke-width="2.8" fill="none"/>
<rect x="1474.50" y="1278.8" width="76.85" height="223.7" fill="#93c0fa" stroke="#0080ff" stroke-width="3"/>
<g stroke="#000" stroke-width="2.8" fill="none">
<path d="M1341.6 1098.0V1502.5"/>
<path d="M1321.4 1502.5H1594.4"/>
<path d="M1321.4 1099.5H1341.6"/>
<path d="M1321.4 1234.2H1341.6"/>
<path d="M1321.4 1368.8H1341.6"/>
</g>
<g font-size="29.17" text-anchor="end">
<text class="t" x="1307.9" y="1110.0">0.015</text>
<text class="t" x="1307.9" y="1244.6">0.010</text>
<text class="t" x="1307.9" y="1379.2">0.005</text>
<text class="t" x="1307.9" y="1512.9">0.000</text>
</g>
<text transform="translate(1214.6,1299.8) rotate(-90)" class="t" font-size="29.17" text-anchor="middle">2^–ΔCt</text>
<text transform="translate(1430.0,1528.5) rotate(-45)" class="t" font-size="29.0" text-anchor="end">Non-sprouter</text>
<text transform="translate(1532.0,1527.5) rotate(-45)" class="t" font-size="29.0" text-anchor="end">Sprouter</text>
<text x="1515.2" y="1161.4" font-size="53" font-weight="bold" letter-spacing="2" text-anchor="middle">*</text>
<text x="967.5" y="1745.0" class="t" font-size="29.17" text-anchor="middle">SNAI1</text>
<path d="M923.3 2059.6V2022.7M903.7 2022.7H942.9" stroke="#808000" stroke-width="2.8" fill="none"/>
<rect x="884.80" y="2059.6" width="77.25" height="120.6" fill="#e9ed92" stroke="#808000" stroke-width="3"/>
<path d="M1014.8 1943.7V1896.0M995.2 1896.0H1034.4" stroke="#0080ff" stroke-width="2.8" fill="none"/>
<rect x="976.40" y="1943.7" width="76.85" height="236.5" fill="#93c0fa" stroke="#0080ff" stroke-width="3"/>
<g stroke="#000" stroke-width="2.8" fill="none">
<path d="M844.2 1776.2V2180.2"/>
<path d="M823.4 2180.2H1096.4"/>
<path d="M823.4 1777.7H844.2"/>
<path d="M823.4 1912.0H844.2"/>
<path d="M823.4 2046.6H844.2"/>
</g>
<g font-size="29.17" text-anchor="end">
<text class="t" x="811.3" y="1788.1">0.006</text>
<text class="t" x="811.3" y="1922.4">0.004</text>
<text class="t" x="811.3" y="2057.0">0.002</text>
<text class="t" x="811.3" y="2190.7">0.000</text>
</g>
<text transform="translate(716.8,1979.3) rotate(-90)" class="t" font-size="29.17" text-anchor="middle">2^–ΔCt</text>
<text transform="translate(928.5,2205.5) rotate(-45)" class="t" font-size="29.0" text-anchor="end">Non-sprouter</text>
<text transform="translate(1027.5,2205.5) rotate(-45)" class="t" font-size="29.0" text-anchor="end">Sprouter</text>
<text x="1019.8" y="1878.4" font-size="53" font-weight="bold" letter-spacing="2" text-anchor="middle">*</text>
<text x="1470.6" y="1752.0" class="t" font-size="29.17" text-anchor="middle">MMP1</text>
<path d="M1418.7 2134.2V2112.0M1400.8 2112.0H1436.5" stroke="#808000" stroke-width="2.8" fill="none"/>
<rect x="1383.80" y="2134.2" width="69.25" height="53.7" fill="#e9ed92" stroke="#808000" stroke-width="3"/>
<path d="M1526.3 1958.1V1853.3M1508.5 1853.3H1544.2" stroke="#0080ff" stroke-width="2.8" fill="none"/>
<rect x="1492.00" y="1958.1" width="68.65" height="229.8" fill="#93c0fa" stroke="#0080ff" stroke-width="3"/>
<rect x="1488.0" y="2080.7" width="77.0" height="11.7" fill="#fff"/>
<g stroke="#000" stroke-width="2.8" fill="none">
<path d="M1346.9 1784.0V2187.9"/>
<path d="M1326.1 2187.9H1600.0"/>
<path d="M1326.1 1785.5H1346.9"/>
<path d="M1326.1 1884.5H1346.9"/>
<path d="M1326.1 1983.0H1346.9"/>
</g>
<g stroke="#000" stroke-width="3" fill="none">
<path d="M1333.4 2094.5L1360.0 2069.7"/>
<path d="M1333.4 2104.8L1360.0 2080.0"/>
</g>
<g font-size="29.17" text-anchor="end">
<text class="t" x="1312.9" y="1796.0">0.03</text>
<text class="t" x="1312.9" y="1894.9">0.02</text>
<text class="t" x="1312.9" y="1993.5">0.01</text>
<text class="t" x="1312.9" y="2103.4">0.00005</text>
<text class="t" x="1312.9" y="2198.3">0.00000</text>
</g>
<text transform="translate(1186.8,1978.3) rotate(-90)" class="t" font-size="29.17" text-anchor="middle">2^–ΔCt</text>
<text transform="translate(1432.5,2213.5) rotate(-45)" class="t" font-size="29.0" text-anchor="end">Non-sprouter</text>
<text transform="translate(1538.5,2213.5) rotate(-45)" class="t" font-size="29.0" text-anchor="end">Sprouter</text>
<text x="1531.0" y="1847.4" font-size="53" font-weight="bold" letter-spacing="2" text-anchor="middle">*</text>
</g>
</svg>
</body>
</html>
